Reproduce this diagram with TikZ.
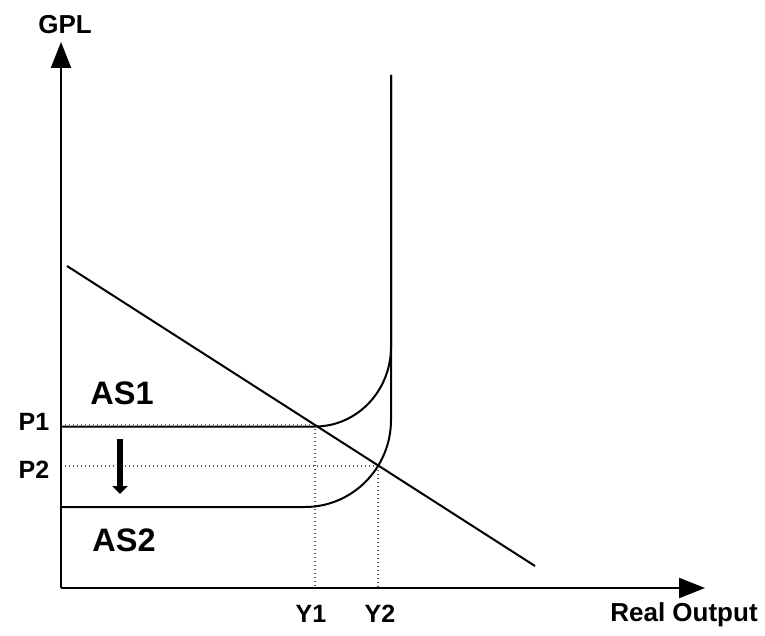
\documentclass[tikz,border=0pt]{standalone}
\usepackage{fontspec}
\setmainfont{Liberation Sans}
\usetikzlibrary{arrows.meta}
\tikzset{
  lbl/.style={font=\fontsize{25}{28}\selectfont\bfseries, inner sep=0pt},
  biglbl/.style={font=\fontsize{32.5}{36}\selectfont\bfseries, inner sep=0pt},
  axis/.style={line width=2.4pt, -{Triangle[length=26pt,width=20pt]}},
  curve/.style={line width=2pt, line join=round},
  guide/.style={gray!70!black, line width=1.3pt, dash pattern=on 1.4pt off 2.6pt},
  shiftarrow/.style={line width=5.5pt, -{Triangle[length=8pt,width=15pt]}}
}
\begin{document}
\begin{tikzpicture}[x=1pt,y=-1pt]
\useasboundingbox (0,0) rectangle (765,636);
% coordinates
\coordinate (O) at (61,588);
\coordinate (ytip) at (61,42);
\coordinate (xtip) at (705,588);
\coordinate (p1l) at (61,424.5);
\coordinate (p1r) at (315,424.5);
\coordinate (p2l) at (61,466);
\coordinate (p2r) at (378,466);
\coordinate (y1b) at (315,588);
\coordinate (y2b) at (378,588);
\coordinate (ad1) at (67,266);
\coordinate (ad2) at (535,566);
\coordinate (as1a) at (61,426.5);
\coordinate (as1b) at (315,426.5);
\coordinate (as1c) at (391,347);
\coordinate (top) at (391,75);
\coordinate (as2a) at (61,507);
\coordinate (as2b) at (305,507);
\coordinate (as2c) at (391,420);
\coordinate (arrs) at (120,439);
\coordinate (arre) at (120,494);
% guides
\draw[guide] (p1l) -- (p1r);
\draw[guide] (p2l) -- (p2r);
\draw[guide] (p1r) -- (y1b);
\draw[guide] (p2r) -- (y2b);
% curves
\draw[curve] (as1a) -- (as1b) .. controls (357,426.5) and (391,390.9) .. (as1c) -- (top);
\draw[curve] (as2a) -- (as2b) .. controls (352.5,507) and (391,468) .. (as2c) -- (top);
\draw[curve] (ad1) -- (ad2);
% axes
\draw[axis] (O) -- (ytip);
\draw[axis] (O) -- (xtip);
% shift arrow
\draw[shiftarrow] (arrs) -- (arre);
% labels
\node[lbl, font=\fontsize{26}{28}\selectfont\bfseries] (gpl) at (65,25) {GPL};
\node[lbl, font=\fontsize{26}{28}\selectfont\bfseries] (ro) at (684,615) {Real Output};
\node[lbl] (y1) at (311,614) {Y1};
\node[lbl] (y2) at (380,614) {Y2};
\node[lbl] (p1) at (34,421.5) {P1};
\node[lbl] (p2) at (34,470) {P2};
\node[biglbl] (as1) at (122,393) {AS1};
\node[biglbl] (as2) at (124,540) {AS2};
\end{tikzpicture}
\end{document}
